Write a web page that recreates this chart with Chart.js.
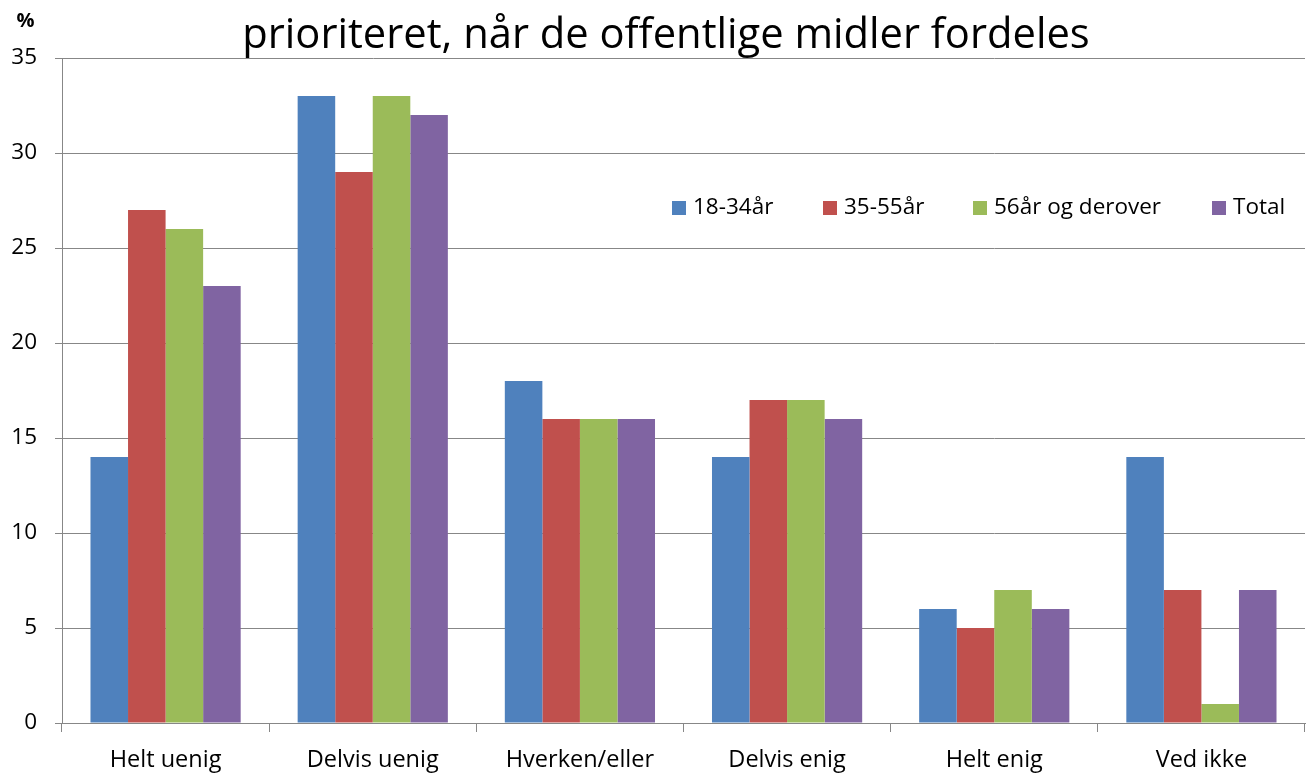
<!DOCTYPE html>
<html>
<head>
<meta charset="utf-8">
<script src="https://cdn.jsdelivr.net/npm/chart.js@4/dist/chart.umd.min.js"></script>
<style>
html,body{margin:0;padding:0;background:#fff;}
#wrap{width:1309px;height:774px;}
</style>
</head>
<body>
<div id="wrap"><canvas id="c" width="1309" height="774"></canvas></div>
<script>
const titleText = "prioriteret, når de offentlige midler fordeles";
const unitLabel = "%";
const categories = ["Helt uenig", "Delvis uenig", "Hverken/eller", "Delvis enig", "Helt enig", "Ved ikke"];
const seriesNames = ["18-34år", "35-55år", "56år og derover", "Total"];
const age18to34 = [14, 33, 18, 14, 6, 14];
const age35to55 = [27, 29, 16, 17, 5, 7];
const age56plus = [26, 33, 16, 17, 7, 1];
const total = [23, 32, 16, 16, 6, 7];
const seriesColors = ["#4F81BD", "#C0504D", "#9BBB59", "#8064A2"];
const yMin = 0, yMax = 35, yStep = 5;

const FONT = "'Open Sans', 'DejaVu Sans', sans-serif";
const GRID = "#878787";

const decor = {
  id: "decor",
  afterDraw(chart) {
    const ctx = chart.ctx;
    ctx.save();
    // title
    ctx.fillStyle = "#000";
    ctx.font = "41.7px " + FONT;
    ctx.textAlign = "center";
    ctx.textBaseline = "alphabetic";
    ctx.fillText(titleText, 666, 48);
    // unit
    ctx.font = "bold 20px " + FONT;
    ctx.fillText(unitLabel, 25.5, 27);
    // legend
    ctx.font = "22.5px " + FONT;
    ctx.textAlign = "left";
    ctx.textBaseline = "middle";
    const xs = [672, 823, 973, 1212];
    const cy = 208;
    chart.data.datasets.forEach((ds, i) => {
      ctx.fillStyle = ds.backgroundColor;
      ctx.fillRect(xs[i], cy - 7, 14, 14);
      ctx.fillStyle = "#000";
      ctx.fillText(ds.label, xs[i] + 21, cy);
    });
    ctx.restore();
  }
};

const dataSets = [age18to34, age35to55, age56plus, total].map((arr, i) => ({
  label: seriesNames[i],
  data: arr,
  backgroundColor: seriesColors[i],
  borderWidth: 0,
  categoryPercentage: 0.725,
  barPercentage: 1.0
}));

new Chart(document.getElementById("c"), {
  type: "bar",
  data: { labels: categories, datasets: dataSets },
  options: {
    responsive: false,
    animation: false,
    layout: { padding: { top: 58, right: 4, left: 0, bottom: 0 } },
    plugins: {
      legend: { display: false },
      title: { display: false },
      tooltip: { enabled: false }
    },
    scales: {
      x: {
        grid: { display: true, drawOnChartArea: false, drawTicks: true, tickLength: 9, color: GRID, lineWidth: 1, offset: true },
        border: { display: true, color: GRID, width: 1 },
        ticks: { color: "#000", font: { family: FONT, size: 23.5 }, padding: 14, maxRotation: 0 },
        afterFit(scale) { scale.height = 51; }
      },
      y: {
        min: yMin, max: yMax,
        grid: { display: true, color: GRID, lineWidth: 1, drawTicks: true, tickLength: 7 },
        border: { display: true, color: GRID, width: 1 },
        ticks: { stepSize: yStep, color: "#000", font: { family: FONT, size: 22.5 }, padding: 18 },
        afterFit(scale) { scale.width = 62; }
      }
    }
  },
  plugins: [decor]
});
</script>
</body>
</html>
